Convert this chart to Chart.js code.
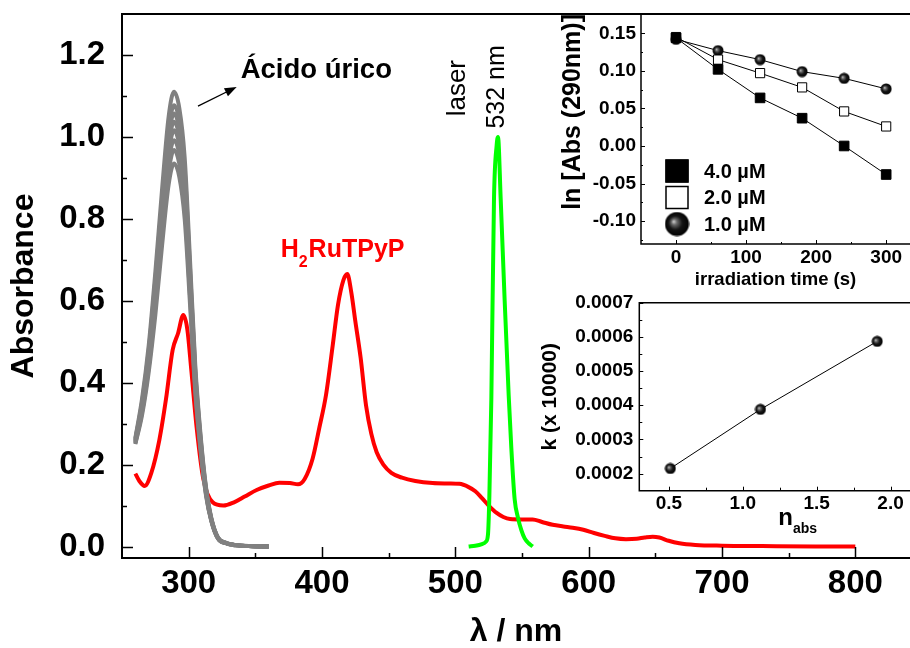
<!DOCTYPE html>
<html lang="es">
<head>
<meta charset="UTF-8">
<title>Absorbancia H2RuTPyP / ácido úrico</title>
<script src="https://cdn.jsdelivr.net/npm/chart.js"></script>
<style>
  html, body { margin: 0; padding: 0; background: #fff; overflow: hidden; }
  #wrap { position: relative; width: 910px; height: 648px; }
  #wrap canvas { position: absolute; }
</style>
</head>
<body>
<div id="wrap">
  <canvas id="mainChart" width="910" height="648" style="left:0;top:0"></canvas>
  <canvas id="kinChart" width="370" height="300" style="left:540px;top:0"></canvas>
  <canvas id="rateChart" width="380" height="260" style="left:530px;top:285px"></canvas>
</div>

<script>
// --- main spectra ---
const lambdaTicks = [300, 400, 500, 600, 700, 800];
const lambdaMinor = [350, 450, 550, 650, 750, 850];
const absTicks = [0, 0.2, 0.4, 0.6, 0.8, 1.0, 1.2];
const absMinor = [0.1, 0.3, 0.5, 0.7, 0.9, 1.1];

// uric acid scans (290 nm band decreasing with irradiation)
const uricLambda = [260, 265, 270, 275, 280, 285, 289, 293, 297, 301, 305, 309, 313, 317, 322, 328, 335, 345, 360];
const uricScan1 = [0.265, 0.36, 0.49, 0.67, 0.87, 1.05, 1.11, 1.07, 0.95, 0.70, 0.44, 0.27, 0.145, 0.07, 0.022, 0.009, 0.004, 0.001, 0];
const uricScan2 = [0.262, 0.352, 0.478, 0.652, 0.845, 1.018, 1.077, 1.038, 0.922, 0.68, 0.428, 0.263, 0.141, 0.068, 0.021, 0.009, 0.004, 0.001, 0];
const uricScan3 = [0.26, 0.347, 0.47, 0.64, 0.83, 1.0, 1.057, 1.018, 0.905, 0.667, 0.42, 0.258, 0.139, 0.067, 0.021, 0.009, 0.004, 0.001, 0];
const uricScan4 = [0.258, 0.342, 0.462, 0.628, 0.814, 0.98, 1.037, 1.0, 0.888, 0.655, 0.412, 0.253, 0.136, 0.066, 0.021, 0.008, 0.004, 0.001, 0];
const uricScan5 = [0.256, 0.337, 0.454, 0.615, 0.797, 0.96, 1.016, 0.98, 0.87, 0.642, 0.404, 0.248, 0.134, 0.065, 0.02, 0.008, 0.004, 0.001, 0];
const uricScan6 = [0.254, 0.332, 0.445, 0.6, 0.778, 0.938, 0.992, 0.957, 0.85, 0.627, 0.395, 0.243, 0.131, 0.064, 0.02, 0.008, 0.003, 0.001, 0];
const uricScan7 = [0.252, 0.327, 0.436, 0.585, 0.759, 0.915, 0.968, 0.934, 0.83, 0.612, 0.386, 0.238, 0.128, 0.063, 0.02, 0.008, 0.003, 0.001, 0];
const uricScan8 = [0.25, 0.32, 0.425, 0.565, 0.733, 0.884, 0.935, 0.902, 0.8, 0.592, 0.374, 0.232, 0.125, 0.062, 0.019, 0.008, 0.003, 0.001, 0];

// H2RuTPyP porphyrin spectrum
const porphLambda = [260, 263, 267, 272, 278, 283, 288, 292, 296, 299, 302, 306, 311, 318, 326, 334, 342, 351, 360, 368, 376, 382, 387, 393, 398, 403, 408, 412, 416, 419, 422, 425, 429, 433, 437, 441, 446, 452, 460, 470, 483, 495, 503, 510, 515, 520, 525, 531, 536, 541, 550, 558, 565, 573, 581, 588, 596, 604, 612, 620, 628, 636, 642, 648, 653, 660, 668, 680, 700, 730, 770, 800];
const porphAbs = [0.178, 0.16, 0.148, 0.18, 0.26, 0.36, 0.48, 0.52, 0.565, 0.53, 0.43, 0.29, 0.165, 0.108, 0.10, 0.108, 0.122, 0.138, 0.149, 0.156, 0.155, 0.152, 0.165, 0.215, 0.29, 0.37, 0.49, 0.59, 0.65, 0.665, 0.62, 0.55, 0.46, 0.345, 0.275, 0.23, 0.2, 0.18, 0.168, 0.16, 0.155, 0.154, 0.153, 0.145, 0.135, 0.118, 0.1, 0.082, 0.072, 0.067, 0.066, 0.066, 0.06, 0.053, 0.049, 0.046, 0.041, 0.033, 0.026, 0.02, 0.018, 0.019, 0.022, 0.024, 0.022, 0.014, 0.008, 0.004, 0.002, 0.001, 0, 0];

// laser line profile
const laserLambda = [510, 515, 520, 523, 524.5, 525.5, 527, 529, 531, 532, 534, 537, 540, 542, 544.5, 547, 549.5, 552, 555, 558];
const laserAbs = [0, 0.002, 0.006, 0.012, 0.03, 0.12, 0.36, 0.85, 0.98, 1.0, 0.85, 0.6, 0.37, 0.24, 0.115, 0.07, 0.04, 0.02, 0.008, 0];

// --- kinetics inset ---
const timeS = [0, 60, 120, 180, 240, 300];
const ln4uM = [0.144, 0.102, 0.064, 0.037, 0.000, -0.038];
const ln2uM = [0.145, 0.115, 0.097, 0.078, 0.046, 0.026];
const ln1uM = [0.142, 0.127, 0.115, 0.099, 0.090, 0.076];
const timeTicks = [0, 100, 200, 300];
const timeMinor = [50, 150, 250];
const lnTicks = [-0.10, -0.05, 0.00, 0.05, 0.10, 0.15];
const lnMinor = [-0.125, -0.075, -0.025, 0.025, 0.075, 0.125];

// --- rate constant inset ---
const nAbs = [0.51, 1.12, 1.91];
const kRate = [0.000215, 0.000388, 0.000587];
const nTicks = [0.5, 1.0, 1.5, 2.0];
const nMinor = [0.75, 1.25, 1.75];
const kTicks = [0.0002, 0.0003, 0.0004, 0.0005, 0.0006, 0.0007];
const kMinor = [0.00025, 0.00035, 0.00045, 0.00055, 0.00065];

// label anchors (data units of the main plot)
const uricLabelAt = [339, 1.143];
const arrowFrom = [307, 1.075];
const arrowTo = [336, 1.122];
const porphLabelAt = [369, 0.707];
const laserWordAt = [502.2, 1.119];
const laserNmAt = [531.4, 1.122];

const FONT = '"Liberation Sans", Arial, Helvetica, sans-serif';
Chart.defaults.font.family = FONT;
Chart.defaults.color = '#000';

const xy = (xs, ys) => xs.map((v, i) => ({x: v, y: ys[i]}));

// fixed axis thickness, no extra label padding pushed into the layout
const fixSize = (prop, size) => s => {
  s[prop] = size;
  s.paddingTop = s.paddingBottom = s.paddingLeft = s.paddingRight = 0;
};

function makeBall(d) {
  const c = document.createElement('canvas');
  c.width = c.height = d;
  const g = c.getContext('2d');
  const r = d / 2;
  const grad = g.createRadialGradient(r * 0.72, r * 0.8, 0, r, r, r);
  grad.addColorStop(0, '#d8d8d8');
  grad.addColorStop(0.22, '#6a6a6a');
  grad.addColorStop(0.55, '#141414');
  grad.addColorStop(1, '#000');
  g.fillStyle = grad;
  g.beginPath();
  g.arc(r, r, r - 0.5, 0, Math.PI * 2);
  g.fill();
  return c;
}
const ballSmall = makeBall(12);
const ballLegend = makeBall(25);

// frame (left, bottom, top) and inward tick marks
const frameTicks = {
  id: 'frameTicks',
  afterDraw(chart, args, opts) {
    const {ctx, chartArea: a} = chart;
    const xs = chart.scales.x, ys = chart.scales.y;
    ctx.save();
    ctx.strokeStyle = '#000';
    ctx.lineWidth = opts.lineWidth;
    ctx.beginPath();
    ctx.moveTo(a.right, a.top);
    ctx.lineTo(a.left, a.top);
    ctx.lineTo(a.left, a.bottom);
    ctx.lineTo(a.right, a.bottom);
    ctx.stroke();

    ctx.lineWidth = opts.tickWidth;
    ctx.beginPath();
    const xt = (v, len) => { const p = Math.round(xs.getPixelForValue(v)) + 0.5; ctx.moveTo(p, a.bottom); ctx.lineTo(p, a.bottom - len); };
    const yt = (v, len) => { const p = Math.round(ys.getPixelForValue(v)) + 0.5; ctx.moveTo(a.left, p); ctx.lineTo(a.left + len, p); };
    xs.ticks.forEach(t => xt(t.value, opts.major));
    opts.xMinor.forEach(v => xt(v, opts.minor));
    ys.ticks.forEach(t => yt(t.value, opts.major));
    opts.yMinor.forEach(v => yt(v, opts.minor));
    ctx.stroke();
    ctx.restore();
  }
};

// text labels and arrow on the spectra
const mainNotes = {
  id: 'mainNotes',
  afterDraw(chart) {
    const {ctx, scales: {x, y}} = chart;
    const px = p => [x.getPixelForValue(p[0]), y.getPixelForValue(p[1])];
    ctx.save();

    ctx.fillStyle = '#000';
    ctx.font = 'bold 27.5px ' + FONT;
    ctx.textBaseline = 'alphabetic';
    const [ux, uy] = px(uricLabelAt);
    ctx.fillText('Ácido úrico', ux, uy);

    // arrow pointing at the label
    const [ax, ay] = px(arrowFrom);
    const [bx, by] = px(arrowTo);
    const ang = Math.atan2(by - ay, bx - ax);
    ctx.strokeStyle = '#000';
    ctx.lineWidth = 1.3;
    ctx.beginPath();
    ctx.moveTo(ax, ay);
    ctx.lineTo(bx - 8 * Math.cos(ang), by - 8 * Math.sin(ang));
    ctx.stroke();
    ctx.beginPath();
    ctx.moveTo(bx, by);
    ctx.lineTo(bx - 12 * Math.cos(ang) + 4.5 * Math.sin(ang), by - 12 * Math.sin(ang) - 4.5 * Math.cos(ang));
    ctx.lineTo(bx - 12 * Math.cos(ang) - 4.5 * Math.sin(ang), by - 12 * Math.sin(ang) + 4.5 * Math.cos(ang));
    ctx.closePath();
    ctx.fill();

    // H2RuTPyP with subscript
    const [hx, hy] = px(porphLabelAt);
    ctx.fillStyle = '#ff0000';
    ctx.font = 'bold 25px ' + FONT;
    ctx.fillText('H', hx, hy);
    const wH = ctx.measureText('H').width;
    ctx.font = 'bold 16px ' + FONT;
    ctx.fillText('2', hx + wH, hy + 10);
    const w2 = ctx.measureText('2').width;
    ctx.font = 'bold 25px ' + FONT;
    ctx.fillText('RuTPyP', hx + wH + w2 + 1, hy);

    // vertical laser labels
    ctx.fillStyle = '#000';
    ctx.textAlign = 'center';
    ctx.textBaseline = 'middle';
    [[laserWordAt, 'laser', 26], [laserNmAt, '532 nm', 25]].forEach(([p, txt, size]) => {
      const [lx, ly] = px(p);
      ctx.save();
      ctx.translate(lx, ly);
      ctx.rotate(-Math.PI / 2);
      ctx.font = size + 'px ' + FONT;
      ctx.fillText(txt, 0, 0);
      ctx.restore();
    });
    ctx.restore();
  }
};

const grayLine = data => ({
  data: xy(uricLambda, data), borderColor: '#808080', borderWidth: 4,
  pointRadius: 0, cubicInterpolationMode: 'monotone', fill: false
});

new Chart(document.getElementById('mainChart'), {
  type: 'line',
  data: {
    datasets: [
      grayLine(uricScan1), grayLine(uricScan2), grayLine(uricScan3), grayLine(uricScan4),
      grayLine(uricScan5), grayLine(uricScan6), grayLine(uricScan7), grayLine(uricScan8),
      {
        label: 'laser 532 nm', data: xy(laserLambda, laserAbs), borderColor: '#00ff00',
        borderWidth: 4, pointRadius: 0, cubicInterpolationMode: 'monotone'
      },
      {
        label: 'H2RuTPyP', data: xy(porphLambda, porphAbs), borderColor: '#ff0000',
        borderWidth: 4, pointRadius: 0, cubicInterpolationMode: 'monotone'
      }
    ]
  },
  options: {
    responsive: false,
    animation: false,
    events: [],
    devicePixelRatio: 1,
    layout: {padding: {top: 14, right: 0, left: 0, bottom: 0}, autoPadding: false},
    plugins: {
      legend: {display: false},
      tooltip: {enabled: false},
      frameTicks: {lineWidth: 2, tickWidth: 1.5, major: 11, minor: 5, xMinor: lambdaMinor, yMinor: absMinor}
    },
    scales: {
      x: {
        type: 'linear', position: 'bottom', min: 250, max: 841,
        afterBuildTicks: s => { s.ticks = lambdaTicks.map(v => ({value: v})); },
        afterFit: fixSize('height', 90),
        grid: {display: false, drawTicks: false},
        border: {display: false},
        ticks: {font: {size: 33, weight: 'bold'}, padding: 6, autoSkip: false, maxRotation: 0, callback: v => String(v)},
        title: {display: true, text: 'λ / nm', font: {size: 32, weight: 'bold', lineHeight: 1}, padding: 0}
      },
      y: {
        type: 'linear', min: -0.028, max: 1.3,
        afterBuildTicks: s => { s.ticks = absTicks.map(v => ({value: v})); },
        afterFit: fixSize('width', 122),
        grid: {display: false, drawTicks: false},
        border: {display: false},
        ticks: {font: {size: 33, weight: 'bold'}, padding: 17, callback: v => v.toFixed(1)},
        title: {display: true, text: 'Absorbance', font: {size: 32, weight: 'bold', lineHeight: 1}, padding: {top: 8, bottom: 0}}
      }
    }
  },
  plugins: [frameTicks, mainNotes]
});

// legend drawn inside the kinetics plot
const kinLegend = {
  id: 'kinLegend',
  afterDraw(chart) {
    const {ctx, chartArea: a} = chart;
    ctx.save();
    ctx.font = 'bold 20px ' + FONT;
    ctx.textBaseline = 'middle';
    chart.data.datasets.forEach((ds, i) => {
      const cx = a.left + 36, cy = a.top + 157 + i * 26.5;
      if (ds.pointStyle === 'rect') {
        ctx.fillStyle = ds.pointBackgroundColor;
        ctx.fillRect(cx - 11.5, cy - 11.5, 23, 23);
        ctx.strokeStyle = '#000';
        ctx.lineWidth = 1.5;
        ctx.strokeRect(cx - 11, cy - 11, 22, 22);
      } else {
        ctx.drawImage(ballLegend, cx - 12.5, cy - 12.5);
      }
      ctx.fillStyle = '#000';
      ctx.fillText(ds.label, a.left + 63, cy + 1);
    });
    ctx.restore();
  }
};

new Chart(document.getElementById('kinChart'), {
  type: 'line',
  data: {
    datasets: [
      {label: '4.0 µM', data: xy(timeS, ln4uM), borderColor: '#000', borderWidth: 1,
       pointStyle: 'rect', pointRadius: 6.8, pointBackgroundColor: '#000', pointBorderColor: '#000', pointBorderWidth: 1},
      {label: '2.0 µM', data: xy(timeS, ln2uM), borderColor: '#000', borderWidth: 1,
       pointStyle: 'rect', pointRadius: 6.5, pointBackgroundColor: '#fff', pointBorderColor: '#000', pointBorderWidth: 1},
      {label: '1.0 µM', data: xy(timeS, ln1uM), borderColor: '#000', borderWidth: 1,
       pointStyle: ballSmall, pointRadius: 6}
    ]
  },
  options: {
    responsive: false,
    animation: false,
    events: [],
    devicePixelRatio: 1,
    layout: {padding: {top: 14, right: 0, left: 0, bottom: 0}, autoPadding: false},
    plugins: {
      legend: {display: false},
      tooltip: {enabled: false},
      frameTicks: {lineWidth: 1.5, tickWidth: 1, major: 4, minor: 2, xMinor: timeMinor, yMinor: lnMinor}
    },
    scales: {
      x: {
        type: 'linear', min: -50, max: 334,
        afterBuildTicks: s => { s.ticks = timeTicks.map(v => ({value: v})); },
        afterFit: fixSize('height', 56),
        grid: {display: false, drawTicks: false},
        border: {display: false},
        ticks: {font: {size: 19, weight: 'bold'}, padding: 2, autoSkip: false, maxRotation: 0, callback: v => String(v)},
        title: {display: true, text: 'irradiation time (s)', font: {size: 18.5, weight: 'bold', lineHeight: 1}, padding: {top: 0, bottom: 11}}
      },
      y: {
        type: 'linear', min: -0.1305, max: 0.1757,
        afterBuildTicks: s => { s.ticks = lnTicks.map(v => ({value: v})); },
        afterFit: fixSize('width', 101),
        grid: {display: false, drawTicks: false},
        border: {display: false},
        ticks: {font: {size: 19, weight: 'bold'}, padding: 5, callback: v => v.toFixed(2)},
        title: {display: true, text: 'ln [Abs (290nm)]', align: 'end', font: {size: 25, weight: 'bold', lineHeight: 1}, padding: {top: 21, bottom: 0}}
      }
    }
  },
  plugins: [frameTicks, kinLegend]
});

// n_abs axis title with subscript
const nAbsTitle = {
  id: 'nAbsTitle',
  afterDraw(chart) {
    const {ctx, chartArea: a} = chart;
    ctx.save();
    ctx.fillStyle = '#000';
    ctx.textBaseline = 'alphabetic';
    const x0 = a.left + 139;
    ctx.font = 'bold 24px ' + FONT;
    ctx.fillText('n', x0, a.bottom + 34);
    const wn = ctx.measureText('n').width;
    ctx.font = 'bold 14px ' + FONT;
    ctx.fillText('abs', x0 + wn, a.bottom + 42);
    ctx.restore();
  }
};

new Chart(document.getElementById('rateChart'), {
  type: 'line',
  data: {
    datasets: [
      {label: 'k', data: xy(nAbs, kRate), borderColor: '#000', borderWidth: 1,
       pointStyle: ballSmall, pointRadius: 6}
    ]
  },
  options: {
    responsive: false,
    animation: false,
    events: [],
    devicePixelRatio: 1,
    layout: {padding: {top: 17.7, right: 0, left: 0, bottom: 0}, autoPadding: false},
    plugins: {
      legend: {display: false},
      tooltip: {enabled: false},
      frameTicks: {lineWidth: 1.5, tickWidth: 1, major: 4, minor: 3, xMinor: nMinor, yMinor: kMinor}
    },
    scales: {
      x: {
        type: 'linear', min: 0.3, max: 2.1316,
        afterBuildTicks: s => { s.ticks = nTicks.map(v => ({value: v})); },
        afterFit: fixSize('height', 54.3),
        grid: {display: false, drawTicks: false},
        border: {display: false},
        ticks: {font: {size: 19, weight: 'bold'}, padding: 1.5, autoSkip: false, maxRotation: 0, callback: v => v.toFixed(1)},
        title: {display: false}
      },
      y: {
        type: 'linear', min: 0.00015, max: 0.0007,
        afterBuildTicks: s => { s.ticks = kTicks.map(v => ({value: v})); },
        afterFit: fixSize('width', 109.3),
        grid: {display: false, drawTicks: false},
        border: {display: false},
        ticks: {font: {size: 19, weight: 'bold'}, padding: 6, callback: v => v.toFixed(4)},
        title: {display: true, text: 'k (x 10000)', font: {size: 21, weight: 'bold', lineHeight: 1}, padding: {top: 9.5, bottom: 0}}
      }
    }
  },
  plugins: [frameTicks, nAbsTitle]
});
</script>
</body>
</html>
